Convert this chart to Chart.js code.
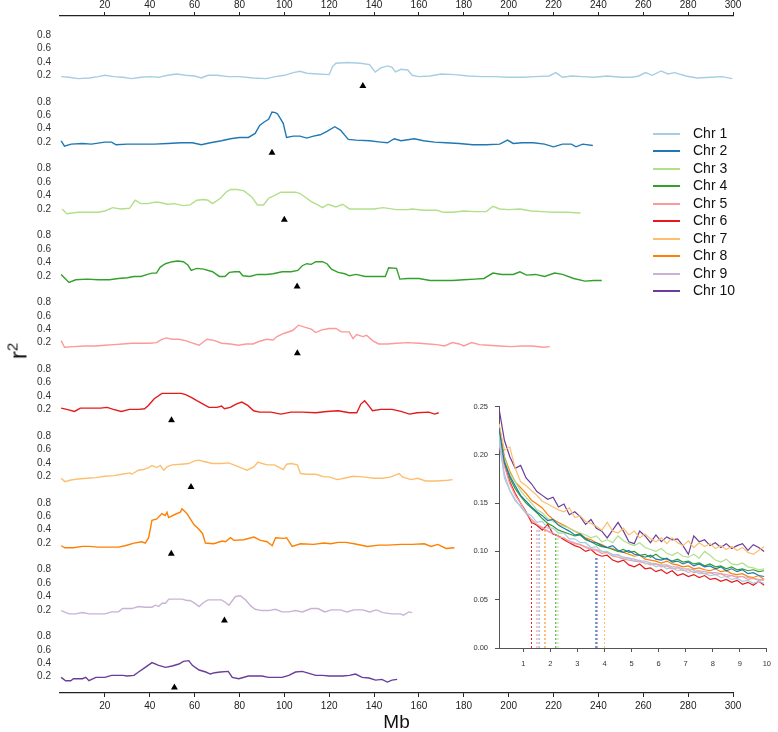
<!DOCTYPE html>
<html>
<head>
<meta charset="utf-8">
<script src="https://cdn.jsdelivr.net/npm/chart.js@4"></script>
<style>
  body { margin: 0; background: #fff; }
  #wrap { position: relative; width: 778px; height: 732px; background: #fff; font-family: 'Liberation Sans', Arial, sans-serif; }
  #wrap canvas { position: absolute; }
  .leg { position: absolute; left: 653px; height: 18px; line-height: 18px; font-size: 14px; color: #111; white-space: nowrap; }
  .leg span { display: inline-block; width: 27px; height: 2px; vertical-align: middle; margin-right: 13px; }
  #ylab { position: absolute; left: 18px; top: 351px; transform: translate(-50%, -50%) rotate(-90deg); font-size: 24px; color: #111; white-space: nowrap; }
  #ylab sup { font-size: 15px; }
</style>
</head>
<body>
<div id="wrap">
  <canvas id="main" width="778" height="732" style="left:0;top:0"></canvas>
  <canvas id="inset" width="320" height="285" style="left:458px;top:395px"></canvas>
  <div id="legend"></div>
  <div id="ylab">r<sup>2</sup></div>
</div>
<script>
const chrNames = ['Chr 1', 'Chr 2', 'Chr 3', 'Chr 4', 'Chr 5', 'Chr 6', 'Chr 7', 'Chr 8', 'Chr 9', 'Chr 10'];
const chrColors = ['#a6cee3', '#1f78b4', '#b2df8a', '#33a02c', '#fb9a99', '#e31a1c', '#fdbf6f', '#ff7f00', '#cab2d6', '#6a3d9a'];
const centromeres = [135, 94.5, 100, 105.7, 105.8, 49.7, 58.4, 49.6, 73.3, 51];
const mbTicks = [20, 40, 60, 80, 100, 120, 140, 160, 180, 200, 220, 240, 260, 280, 300];
const r2Ticks = [0.2, 0.4, 0.6, 0.8];

// [Mb, r2]
const chr1 = [[0.5,0.18],[4,0.17],[8,0.15],[13,0.16],[17,0.18],[20,0.2],[24,0.18],[28,0.17],[32,0.15],[36,0.17],[40,0.18],[44,0.17],[48,0.2],[52,0.22],[56,0.2],[60,0.19],[63,0.16],[66,0.2],[70,0.2],[75,0.18],[80,0.18],[86,0.16],[92,0.15],[96,0.18],[100,0.2],[104,0.24],[107,0.26],[110,0.23],[115,0.22],[120,0.21],[121.5,0.33],[123,0.38],[128,0.39],[134,0.38],[138,0.36],[140.5,0.25],[143,0.31],[146,0.34],[148,0.32],[149.5,0.25],[152,0.29],[155,0.28],[157,0.2],[160,0.18],[165,0.19],[170,0.22],[176,0.21],[182,0.19],[188,0.18],[194,0.18],[200,0.17],[206,0.17],[212,0.18],[218,0.19],[221,0.24],[224,0.17],[228,0.19],[233,0.18],[238,0.17],[244,0.19],[250,0.17],[255,0.17],[258,0.19],[261,0.24],[264,0.2],[268,0.265],[271,0.22],[274,0.24],[279,0.19],[284,0.16],[290,0.17],[295,0.18],[299.7,0.15]];
const chr2 = [[0.5,0.22],[2,0.14],[5,0.17],[10,0.18],[14,0.17],[20,0.2],[23,0.2],[25,0.16],[30,0.17],[36,0.17],[42,0.17],[48,0.18],[54,0.19],[59,0.19],[63,0.16],[67,0.19],[72,0.22],[76,0.25],[80,0.27],[84,0.27],[87,0.33],[89,0.45],[91,0.5],[93,0.54],[94.5,0.65],[96,0.64],[97,0.62],[99.5,0.48],[101,0.27],[104,0.29],[107,0.29],[110,0.26],[113,0.29],[116,0.31],[119,0.36],[122.5,0.43],[125,0.38],[128.5,0.24],[132,0.23],[138,0.22],[143,0.2],[146,0.19],[149,0.25],[152,0.22],[158,0.25],[162,0.22],[167,0.2],[172,0.19],[178,0.18],[184,0.16],[190,0.16],[196,0.17],[199.5,0.23],[202,0.18],[206,0.19],[211,0.19],[216,0.17],[220,0.13],[224,0.17],[228,0.17],[230,0.13],[233,0.17],[237.5,0.15]];
const chr3 = [[1,0.2],[3,0.13],[8,0.15],[13,0.15],[17,0.15],[20,0.17],[23.5,0.22],[27,0.2],[31,0.21],[33.5,0.33],[36,0.28],[39,0.28],[42,0.3],[44,0.3],[48,0.27],[51,0.28],[55,0.25],[58,0.26],[61,0.33],[64,0.34],[66,0.33],[68,0.28],[71.5,0.36],[74,0.45],[76,0.49],[79,0.49],[82,0.47],[85.5,0.38],[88,0.26],[90.7,0.26],[93,0.36],[95,0.39],[98.5,0.45],[102,0.45],[105,0.45],[107,0.43],[110,0.36],[112,0.31],[115,0.26],[117,0.22],[119.5,0.27],[123,0.23],[126,0.27],[129,0.2],[134,0.2],[140,0.2],[144,0.22],[150,0.19],[155,0.19],[157,0.2],[162,0.18],[168,0.18],[171,0.15],[175,0.15],[180,0.17],[185,0.16],[190,0.16],[193,0.24],[196,0.2],[200,0.19],[205,0.2],[210,0.17],[215,0.16],[220,0.15],[226,0.15],[232,0.14]];
const chr4 = [[0.5,0.22],[4,0.1],[7,0.14],[12,0.15],[17,0.14],[22,0.14],[26,0.16],[30,0.17],[33,0.19],[36,0.19],[39,0.22],[41,0.24],[43,0.24],[44.7,0.33],[47,0.38],[50,0.41],[52.5,0.42],[55,0.41],[57,0.36],[58.5,0.28],[61,0.31],[64,0.3],[68,0.26],[71,0.19],[73.5,0.19],[75.5,0.25],[78,0.26],[80,0.26],[81.5,0.2],[84.6,0.19],[88,0.22],[92,0.22],[95,0.23],[99,0.26],[103,0.26],[106,0.28],[108,0.35],[110,0.38],[112,0.37],[114,0.41],[117,0.41],[119,0.38],[121,0.3],[124,0.25],[127,0.23],[129,0.2],[132,0.22],[136,0.19],[140,0.19],[145,0.19],[146.5,0.32],[150,0.31],[151.5,0.15],[155,0.16],[160,0.16],[165,0.13],[170,0.13],[175,0.13],[180,0.14],[185,0.15],[189,0.16],[193,0.24],[197,0.22],[202,0.22],[205,0.26],[208,0.21],[212,0.22],[216,0.19],[220.5,0.24],[224,0.22],[229,0.16],[234,0.12],[238,0.13],[241.5,0.13]];
const chr5 = [[0.5,0.23],[2,0.13],[6,0.14],[11,0.15],[16,0.15],[20,0.16],[24,0.17],[28,0.18],[32,0.19],[36,0.19],[40,0.19],[43,0.2],[45,0.24],[47.3,0.27],[50,0.25],[53,0.25],[56,0.23],[58.5,0.2],[62,0.16],[65.5,0.25],[69,0.23],[72,0.19],[76,0.18],[79.4,0.16],[83,0.18],[86,0.18],[89,0.22],[92,0.25],[95,0.24],[96.7,0.29],[100,0.34],[103.7,0.38],[106.3,0.46],[109,0.43],[112,0.4],[114,0.35],[116.7,0.39],[120,0.41],[123,0.41],[125.4,0.36],[128.9,0.36],[130.6,0.26],[132.3,0.32],[135,0.29],[136.7,0.31],[139.3,0.23],[142,0.18],[146,0.18],[150,0.19],[155,0.2],[160,0.19],[164.4,0.18],[168,0.17],[171.4,0.15],[174.9,0.2],[178,0.18],[180,0.15],[183.5,0.2],[187,0.17],[191,0.16],[196,0.15],[201,0.14],[206,0.15],[210.5,0.15],[215.7,0.13],[218.3,0.14]];
const chr6 = [[0.5,0.22],[3,0.2],[6.5,0.17],[9,0.22],[14,0.22],[18,0.22],[21,0.23],[23.8,0.2],[27.3,0.17],[31,0.2],[35,0.2],[37.7,0.21],[39.4,0.26],[42,0.36],[45.5,0.44],[50,0.44],[54,0.44],[56,0.42],[58.5,0.38],[61,0.33],[63.8,0.28],[66.4,0.23],[70,0.23],[72,0.25],[73.3,0.21],[75.9,0.23],[78.5,0.28],[81,0.31],[83.7,0.26],[86.3,0.18],[89,0.16],[94,0.16],[98.5,0.13],[103,0.16],[108,0.16],[114,0.15],[119,0.17],[124,0.18],[129,0.15],[132.3,0.15],[134.1,0.28],[135.8,0.33],[137.5,0.26],[139.3,0.18],[143,0.2],[148,0.2],[152,0.17],[155.8,0.13],[159.2,0.15],[164.4,0.16],[167,0.13],[168.8,0.15]];
const chr7 = [[0.5,0.17],[2.2,0.12],[4.4,0.14],[8,0.16],[12,0.17],[16,0.18],[20,0.2],[24,0.21],[27.6,0.23],[31.3,0.25],[32,0.23],[35,0.29],[37.2,0.3],[39.5,0.33],[41,0.36],[43.2,0.33],[44.7,0.36],[46.2,0.29],[47.7,0.34],[50,0.37],[54,0.38],[57.4,0.39],[60,0.43],[62,0.44],[64.1,0.42],[68,0.39],[72,0.39],[75.2,0.4],[78.9,0.35],[81.9,0.31],[83.4,0.29],[86.4,0.34],[88.2,0.41],[90.1,0.39],[92.3,0.37],[95.6,0.37],[98.3,0.32],[99.5,0.3],[101,0.38],[103.1,0.39],[105.8,0.37],[107.2,0.24],[110,0.23],[114,0.23],[117.7,0.19],[120,0.19],[123.6,0.15],[126.6,0.17],[130.8,0.2],[135,0.19],[140,0.17],[144,0.17],[147.5,0.19],[151.2,0.24],[152.7,0.19],[156.4,0.15],[159.4,0.17],[163,0.13],[168,0.13],[172.8,0.14],[175,0.15]];
const chr8 = [[0.5,0.16],[2.2,0.13],[6,0.13],[10,0.15],[13,0.15],[17,0.14],[22,0.14],[26,0.14],[29,0.16],[33,0.2],[36.5,0.22],[38,0.2],[39.5,0.28],[41,0.54],[43.2,0.56],[45.4,0.64],[46.9,0.61],[47.7,0.66],[48.4,0.58],[51.4,0.63],[53.6,0.66],[54.4,0.71],[55.1,0.69],[56.6,0.64],[58.1,0.56],[59.6,0.48],[61.8,0.41],[63.6,0.34],[64.8,0.2],[68.5,0.19],[72.3,0.23],[73.7,0.22],[76,0.28],[77.5,0.24],[81.9,0.25],[86.4,0.29],[89.4,0.24],[92.3,0.22],[94.6,0.16],[96.1,0.28],[99.8,0.27],[101,0.28],[103.5,0.15],[107.2,0.19],[113,0.18],[117.7,0.2],[120.7,0.19],[124,0.21],[127.4,0.21],[131.1,0.19],[137.1,0.15],[142,0.17],[146,0.17],[152,0.18],[157,0.18],[162.4,0.19],[165.4,0.15],[168.4,0.18],[172.1,0.12],[175.8,0.13]];
const chr9 = [[0.5,0.19],[4,0.14],[7,0.14],[10,0.16],[13,0.14],[17,0.14],[20,0.14],[23,0.17],[26,0.17],[28,0.22],[32,0.22],[35,0.25],[38,0.24],[41,0.24],[42.5,0.27],[44,0.25],[45.5,0.3],[47,0.3],[48.5,0.36],[52,0.36],[54.5,0.36],[56.5,0.34],[58,0.34],[60,0.3],[62,0.25],[64,0.31],[66,0.35],[70,0.35],[72,0.35],[73.8,0.31],[75.3,0.27],[78.2,0.4],[80.4,0.41],[82.7,0.35],[85,0.26],[87,0.21],[90,0.19],[93,0.19],[96,0.21],[99,0.17],[102,0.17],[105,0.19],[108,0.17],[112,0.22],[115,0.22],[118,0.17],[121,0.2],[125,0.2],[128,0.17],[131,0.2],[135,0.2],[138,0.17],[141,0.2],[144,0.16],[148,0.14],[152,0.14],[153,0.12],[155.5,0.17],[157,0.16]];
const chr10 = [[0.5,0.19],[2.5,0.14],[4.8,0.14],[6,0.17],[10,0.17],[11.5,0.19],[12.9,0.14],[16,0.19],[20,0.19],[23,0.22],[28,0.22],[30,0.21],[33,0.22],[35,0.27],[38,0.34],[41,0.41],[44,0.37],[47,0.34],[50,0.36],[53,0.39],[55,0.43],[57.4,0.44],[59,0.37],[62,0.3],[65,0.27],[67,0.24],[69,0.26],[71.5,0.27],[75,0.28],[76.8,0.19],[79.7,0.17],[84,0.21],[90,0.21],[93,0.19],[99,0.19],[102,0.22],[105,0.27],[108,0.28],[111,0.25],[114,0.22],[117,0.22],[120,0.21],[126,0.21],[129,0.22],[131.7,0.24],[134.7,0.19],[137.7,0.18],[140.7,0.15],[143.5,0.16],[145.9,0.12],[148,0.15],[150.3,0.16]];
const chrData = [chr1, chr2, chr3, chr4, chr5, chr6, chr7, chr8, chr9, chr10];

// LD decay inset: distance (Mb) and mean r2 per chromosome
const ldDist = [0.1,0.3,0.5,0.7,0.9,1.1,1.3,1.5,1.7,1.9,2.1,2.3,2.5,2.7,2.9,3.1,3.3,3.5,3.7,3.9,4.1,4.3,4.5,4.7,4.9,5.1,5.3,5.5,5.7,5.9,6.1,6.3,6.5,6.7,6.9,7.1,7.3,7.5,7.7,7.9,8.1,8.3,8.5,8.7,8.9,9.1,9.3,9.5,9.7,9.9];
const ld1 = [0.218,0.176,0.163,0.152,0.147,0.140,0.137,0.130,0.131,0.124,0.124,0.119,0.119,0.113,0.113,0.109,0.109,0.104,0.105,0.100,0.100,0.096,0.097,0.093,0.093,0.090,0.091,0.087,0.088,0.084,0.086,0.082,0.083,0.080,0.081,0.078,0.080,0.077,0.077,0.075,0.076,0.073,0.074,0.071,0.072,0.069,0.070,0.067,0.069,0.067];
const ld2 = [0.228,0.192,0.178,0.168,0.158,0.152,0.146,0.141,0.137,0.132,0.133,0.127,0.124,0.121,0.117,0.118,0.113,0.110,0.109,0.106,0.104,0.106,0.101,0.099,0.101,0.097,0.096,0.094,0.096,0.092,0.091,0.093,0.089,0.090,0.087,0.089,0.085,0.087,0.084,0.085,0.082,0.084,0.080,0.082,0.079,0.081,0.077,0.078,0.075,0.074];
const ld3 = [0.222,0.196,0.181,0.172,0.163,0.156,0.150,0.143,0.140,0.134,0.131,0.128,0.126,0.124,0.121,0.119,0.117,0.114,0.116,0.110,0.112,0.109,0.116,0.111,0.108,0.106,0.109,0.104,0.102,0.100,0.103,0.098,0.096,0.099,0.095,0.094,0.097,0.093,0.100,0.096,0.091,0.089,0.092,0.087,0.086,0.088,0.084,0.083,0.081,0.082];
const ld4 = [0.224,0.196,0.176,0.165,0.157,0.150,0.145,0.140,0.134,0.129,0.126,0.122,0.120,0.118,0.116,0.117,0.112,0.110,0.107,0.105,0.104,0.102,0.100,0.102,0.099,0.100,0.096,0.097,0.094,0.097,0.093,0.092,0.090,0.092,0.089,0.090,0.087,0.088,0.085,0.087,0.084,0.085,0.082,0.084,0.081,0.082,0.080,0.081,0.079,0.080];
const ld5 = [0.220,0.188,0.170,0.158,0.150,0.140,0.133,0.128,0.125,0.121,0.119,0.115,0.114,0.110,0.108,0.107,0.104,0.102,0.101,0.098,0.099,0.095,0.094,0.092,0.091,0.090,0.089,0.088,0.086,0.087,0.084,0.085,0.082,0.083,0.080,0.081,0.078,0.079,0.077,0.078,0.076,0.077,0.074,0.075,0.073,0.074,0.071,0.072,0.070,0.071];
const ld6 = [0.222,0.190,0.172,0.160,0.150,0.141,0.130,0.127,0.122,0.128,0.118,0.116,0.112,0.109,0.106,0.104,0.100,0.102,0.097,0.095,0.096,0.091,0.089,0.091,0.086,0.084,0.087,0.082,0.083,0.079,0.081,0.077,0.080,0.075,0.077,0.074,0.076,0.073,0.075,0.071,0.072,0.069,0.071,0.068,0.070,0.066,0.068,0.065,0.069,0.065];
const ld7 = [0.232,0.205,0.208,0.186,0.172,0.168,0.163,0.158,0.152,0.149,0.146,0.143,0.141,0.145,0.135,0.137,0.131,0.129,0.126,0.122,0.130,0.121,0.119,0.124,0.117,0.121,0.114,0.118,0.113,0.110,0.114,0.108,0.114,0.109,0.106,0.111,0.104,0.109,0.105,0.108,0.103,0.106,0.102,0.105,0.101,0.104,0.099,0.097,0.101,0.105];
const ld8 = [0.232,0.198,0.183,0.172,0.166,0.160,0.153,0.149,0.145,0.138,0.133,0.130,0.127,0.124,0.121,0.118,0.114,0.112,0.109,0.107,0.104,0.103,0.100,0.099,0.097,0.095,0.096,0.092,0.091,0.090,0.088,0.090,0.087,0.086,0.084,0.085,0.082,0.083,0.081,0.080,0.082,0.079,0.080,0.077,0.076,0.077,0.074,0.073,0.075,0.071];
const ld9 = [0.212,0.180,0.163,0.154,0.146,0.139,0.133,0.127,0.124,0.121,0.118,0.116,0.113,0.111,0.109,0.107,0.105,0.103,0.102,0.100,0.099,0.097,0.096,0.094,0.093,0.092,0.090,0.090,0.088,0.087,0.086,0.086,0.084,0.084,0.082,0.082,0.081,0.080,0.079,0.078,0.078,0.077,0.076,0.075,0.074,0.074,0.073,0.072,0.071,0.070];
const ld10 = [0.248,0.215,0.198,0.186,0.189,0.176,0.170,0.162,0.158,0.154,0.156,0.146,0.149,0.138,0.141,0.136,0.128,0.133,0.124,0.121,0.114,0.122,0.130,0.121,0.110,0.108,0.121,0.116,0.109,0.117,0.110,0.115,0.112,0.113,0.106,0.097,0.116,0.110,0.112,0.106,0.109,0.104,0.108,0.103,0.106,0.108,0.101,0.107,0.104,0.100];
const ldData = [ld1, ld2, ld3, ld4, ld5, ld6, ld7, ld8, ld9, ld10];
// half-decay distances and the r2 reached there
const halfDist = [1.55, 3.68, 2.28, 2.2, 1.5, 1.3, 4.0, 1.8, 1.6, 3.72];
const halfR2 = [0.124, 0.094, 0.118, 0.118, 0.124, 0.129, 0.09, 0.124, 0.124, 0.094];
const ldTicksX = [1, 2, 3, 4, 5, 6, 7, 8, 9, 10];
const ldTicksY = [0, 0.05, 0.1, 0.15, 0.2, 0.25];

const FONT = "'Liberation Sans', Arial, sans-serif";
Chart.defaults.font.family = FONT;
Chart.defaults.animation = false;

// main stacked panels
const datasets = [];
chrData.forEach((d, i) => {
  datasets.push({
    type: 'line', label: chrNames[i],
    data: d.map(p => ({ x: p[0], y: p[1] })),
    borderColor: chrColors[i], borderWidth: 1.4, pointRadius: 0, tension: 0,
    xAxisID: 'x', yAxisID: 'y' + (i + 1)
  });
  datasets.push({
    type: 'scatter', label: 'centromere ' + (i + 1),
    data: [{ x: centromeres[i], y: 0.04 }],
    pointStyle: 'triangle', pointRadius: 4, backgroundColor: '#000', borderColor: '#000', borderWidth: 0,
    xAxisID: 'x', yAxisID: 'y' + (i + 1)
  });
});

const xAxis = (pos, h, pad) => ({
  type: 'linear', position: pos, min: 0, max: 300,
  afterBuildTicks: s => { s.ticks = mbTicks.map(v => ({ value: v })); },
  afterFit: s => { s.height = h; },
  ticks: { font: { size: 10 }, color: '#222', padding: pad, maxRotation: 0, autoSkip: false },
  grid: { display: true, drawOnChartArea: false, drawTicks: true, tickLength: 4, color: '#222' },
  border: { display: true, color: '#222', width: 1.2 }
});

const spacer = (w, wt) => ({
  type: 'linear', position: 'left', stack: 'chr', stackWeight: w, weight: wt,
  afterFit: s => { s.width = 60; },
  ticks: { display: false }, grid: { display: false, drawTicks: false }, border: { display: false }
});

const scales = {
  x: Object.assign(xAxis('bottom', 39, 3), {
    title: { display: true, text: 'Mb', color: '#111', font: { size: 19, lineHeight: 1 }, padding: { top: 0, bottom: 0 } }
  }),
  xTop: xAxis('top', 16, 1),
  sTop: spacer(0.088, 12),
  sBottom: spacer(0.043, 0)
};
chrNames.forEach((n, i) => {
  scales['y' + (i + 1)] = {
    type: 'linear', position: 'left', stack: 'chr', stackWeight: 1, weight: 11 - i,
    min: 0, max: 0.997,
    afterBuildTicks: s => { s.ticks = r2Ticks.map(v => ({ value: v })); },
    afterFit: s => { s.width = 60; },
    ticks: { font: { size: 10 }, color: '#333', padding: 9, autoSkip: false, callback: v => v.toFixed(1) },
    grid: { display: false, drawTicks: false },
    border: { display: false }
  };
});

new Chart(document.getElementById('main'), {
  type: 'line',
  data: { datasets },
  options: {
    responsive: false,
    layout: { padding: { left: 0, right: 45, top: 0, bottom: 0 } },
    plugins: { legend: { display: false }, tooltip: { enabled: false } },
    scales
  }
});

// inset: LD decay
const ldSets = [];
halfDist.forEach((hx, i) => {
  ldSets.push({
    label: 'half ' + chrNames[i],
    data: [{ x: hx, y: 0 }, { x: hx, y: halfR2[i] }],
    borderColor: chrColors[i], borderWidth: 1, borderDash: [2, 2], pointRadius: 0
  });
});
ldData.forEach((d, i) => {
  ldSets.push({
    label: chrNames[i],
    data: d.map((v, j) => ({ x: ldDist[j], y: v })),
    borderColor: chrColors[i], borderWidth: 1.2, pointRadius: 0, tension: 0
  });
});

new Chart(document.getElementById('inset'), {
  type: 'line',
  data: { datasets: ldSets },
  options: {
    responsive: false,
    layout: { padding: { left: 0, right: 5, top: 9, bottom: 0 } },
    plugins: { legend: { display: false }, tooltip: { enabled: false } },
    scales: {
      x: {
        type: 'linear', min: 0.1, max: 10,
        afterBuildTicks: s => { s.ticks = ldTicksX.map(v => ({ value: v })); },
        afterFit: s => { s.height = 32; },
        ticks: { font: { size: 7.5 }, color: '#333', padding: 7, maxRotation: 0, autoSkip: false },
        grid: { display: true, drawOnChartArea: false, tickLength: 4, color: '#555' },
        border: { display: true, color: '#555', width: 1 }
      },
      y: {
        type: 'linear', min: 0, max: 0.25,
        afterBuildTicks: s => { s.ticks = ldTicksY.map(v => ({ value: v })); },
        afterFit: s => { s.width = 41; },
        ticks: { font: { size: 7.5 }, color: '#333', padding: 7, autoSkip: false, callback: v => v.toFixed(2) },
        grid: { display: true, drawOnChartArea: false, tickLength: 4, color: '#555' },
        border: { display: true, color: '#555', width: 1 }
      }
    }
  }
});

// legend
const legend = document.getElementById('legend');
chrNames.forEach((name, i) => {
  const row = document.createElement('div');
  row.className = 'leg';
  row.style.top = (132.7 + 17.5 * i - 9) + 'px';
  row.innerHTML = '<span style="background:' + chrColors[i] + '"></span>' + name;
  legend.appendChild(row);
});
</script>
</body>
</html>
